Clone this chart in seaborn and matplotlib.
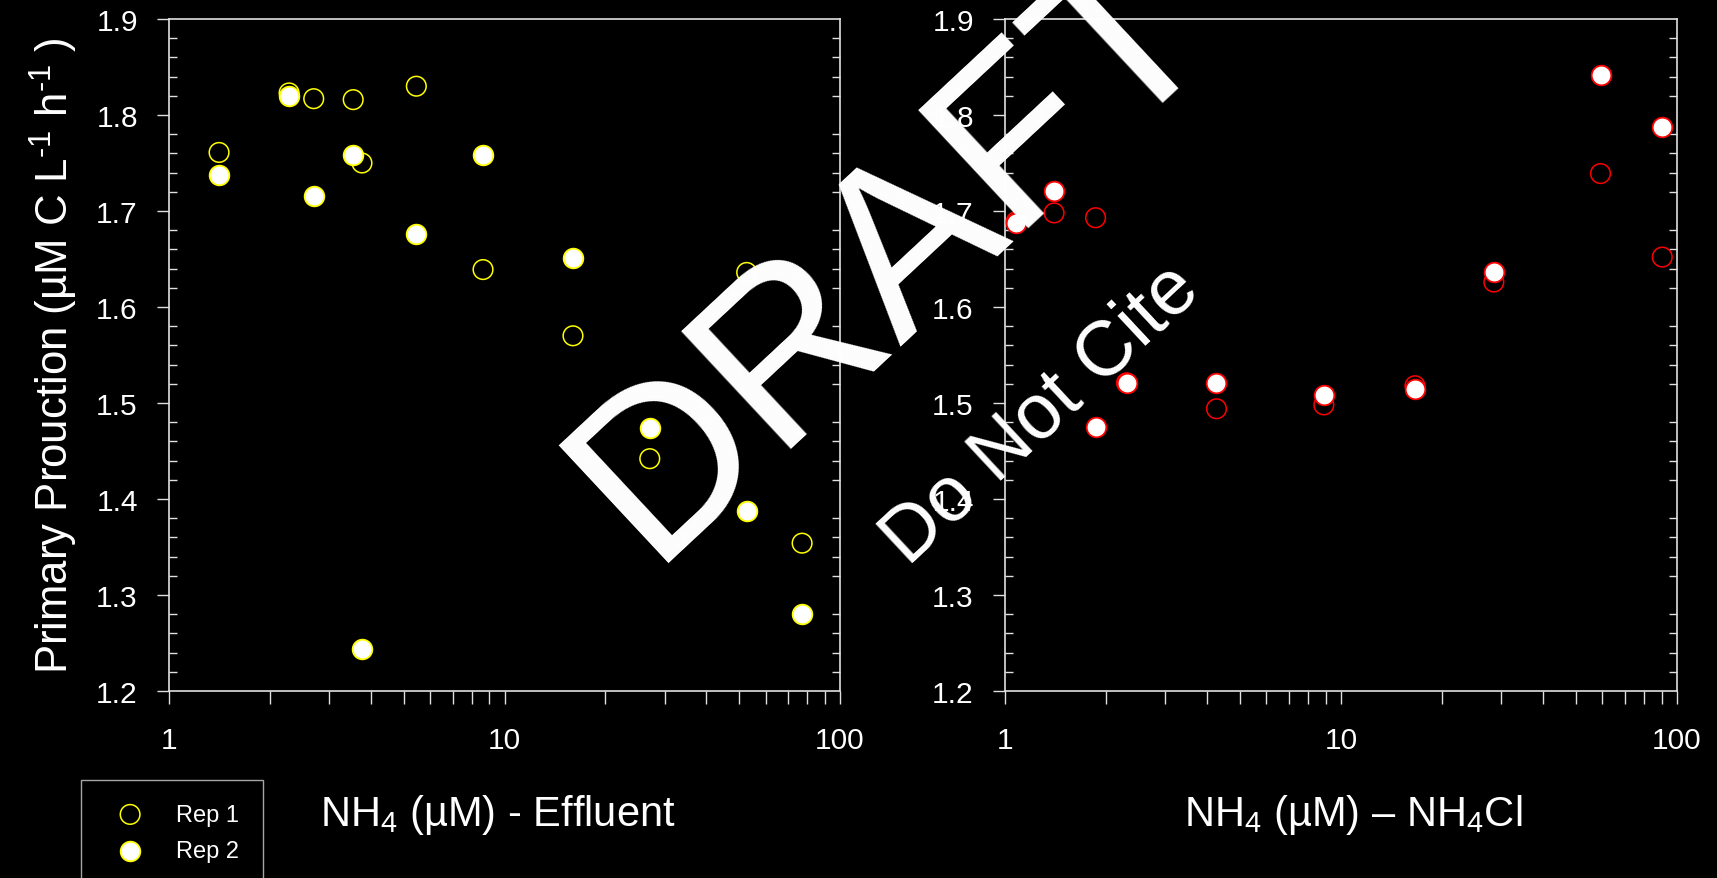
import matplotlib
matplotlib.use("Agg")
import matplotlib.pyplot as plt
from matplotlib.ticker import FixedLocator, LogLocator, MultipleLocator, NullFormatter
import seaborn as sns

# Primary production vs. NH4 added as wastewater effluent
effluent_nh4 = [1.41, 2.28, 2.70, 3.54, 3.76, 5.46, 8.63, 16.0, 27.1, 52.7, 77.1]
effluent_rep1 = [1.761, 1.823, 1.817, 1.816, 1.750, 1.830, 1.639, 1.570, 1.442, 1.636, 1.354]
effluent_rep2 = [1.737, 1.820, 1.716, 1.758, 1.244, 1.676, 1.758, 1.651, 1.474, 1.388, 1.280]

# Primary production vs. NH4 added as NH4Cl
nh4cl_nh4 = [1.08, 1.40, 1.86, 2.30, 4.26, 8.89, 16.6, 28.5, 59.2, 90.4]
nh4cl_rep1 = [1.689, 1.698, 1.693, 1.521, 1.494, 1.498, 1.518, 1.626, 1.739, 1.652]
nh4cl_rep2 = [1.688, 1.721, 1.475, 1.521, 1.521, 1.508, 1.515, 1.636, 1.842, 1.788]

rep_labels = ["Rep 1", "Rep 2"]
x_titles = ["NH$_4$ (µM) - Effluent", "NH$_4$ (µM) – NH$_4$Cl"]
y_title = r"Primary Prouction (µM C L$^{\text{-}1}$ h$^{\text{-}1}$ )"
y_ticks = [1.2, 1.3, 1.4, 1.5, 1.6, 1.7, 1.8, 1.9]
x_ticks = [1, 10, 100]
x_ticklabels = ["1", "10", "100"]

sns.set_style("ticks", rc={
    "figure.facecolor": "black",
    "axes.facecolor": "black",
    "axes.edgecolor": "#e0e0e0",
    "text.color": "white",
    "axes.labelcolor": "white",
    "xtick.color": "#e0e0e0",
    "ytick.color": "#e0e0e0",
})
plt.rcParams["font.family"] = ["Liberation Sans", "DejaVu Sans"]
plt.rcParams["mathtext.fontset"] = "custom"
plt.rcParams["mathtext.rm"] = "Liberation Sans"
plt.rcParams["mathtext.it"] = "Liberation Sans:italic"
plt.rcParams["mathtext.default"] = "regular"

W, H = 1717, 879
fig = plt.figure(figsize=(W / 100, H / 100), dpi=100, facecolor="black")


def px_rect(x0, y0, x1, y1):
    return [x0 / W, 1 - y1 / H, (x1 - x0) / W, (y1 - y0) / H]


ax1 = fig.add_axes(px_rect(169, 20, 840, 692))
ax2 = fig.add_axes(px_rect(1005, 20, 1677, 692))

panels = [
    (ax1, effluent_nh4, effluent_rep1, effluent_rep2, "#ffff00", x_titles[0], 0.490),
    (ax2, nh4cl_nh4, nh4cl_rep1, nh4cl_rep2, "#ff0000", x_titles[1], 0.518),
]

for ax, xs, r1, r2, col, xtitle, xlab_pos in panels:
    sns.scatterplot(x=xs, y=r1, ax=ax, s=200, facecolor="none", edgecolor=col,
                    linewidth=1.1, label=rep_labels[0], legend=False, zorder=3)
    sns.scatterplot(x=xs, y=r2, ax=ax, s=200, facecolor="white", edgecolor=col,
                    linewidth=1.3, label=rep_labels[1], legend=False, zorder=4)

    ax.set_xscale("log")
    ax.set_xlim(1, 100)
    ax.set_ylim(1.2, 1.9)

    ax.xaxis.set_major_locator(FixedLocator(x_ticks))
    ax.set_xticklabels(x_ticklabels)
    ax.xaxis.set_minor_locator(LogLocator(base=10, subs=range(2, 10)))
    ax.xaxis.set_minor_formatter(NullFormatter())

    ax.yaxis.set_major_locator(FixedLocator(y_ticks))
    ax.set_yticklabels([f"{v:.1f}" for v in y_ticks])
    ax.yaxis.set_minor_locator(MultipleLocator(0.02))

    ax.tick_params(axis="y", which="major", direction="out", length=9, width=1.0,
                   left=True, right=False, labelsize=21.5, labelcolor="white", pad=13.5)
    ax.tick_params(axis="y", which="minor", direction="in", length=6, width=1.0,
                   left=True, right=True)
    ax.tick_params(axis="x", which="both", direction="out", length=9.4, width=1.0,
                   bottom=True, top=False)
    ax.tick_params(axis="x", which="major", labelsize=21.5, labelcolor="white", pad=16)

    for sp in ax.spines.values():
        sp.set_visible(True)
        sp.set_linewidth(1.2)
        sp.set_color("#e0e0e0")

    ax.set_xlabel(xtitle, fontsize=30, color="white")
    ax.xaxis.set_label_coords(xlab_pos, -0.150)
    ax.set_ylabel("")

ax1.set_ylabel(y_title, fontsize=31.5, color="white")
ax1.yaxis.set_label_coords(-0.132, 0.5)

handles, labels = ax1.get_legend_handles_labels()
leg = fig.legend(handles, labels, loc="upper left",
                 bbox_to_anchor=(81 / W, 1 - 781 / H), bbox_transform=fig.transFigure,
                 fontsize=17, frameon=True, fancybox=False, borderpad=1.0,
                 handlelength=2.16, handletextpad=0.86, labelspacing=0.6, borderaxespad=0)
frame = leg.get_frame()
frame.set_facecolor("black")
frame.set_edgecolor("#d0d0d0")
frame.set_linewidth(1.0)
for t in leg.get_texts():
    t.set_color("white")

# Watermark
fig.text(650 / W, 1 - 563 / H, "DRAFT", fontsize=168, rotation=43, rotation_mode="anchor",
         ha="left", va="baseline", color="white", zorder=10)
fig.text(908 / W, 1 - 567 / H, "Do Not Cite", fontsize=56, rotation=43, rotation_mode="anchor",
         ha="left", va="baseline", color="white", zorder=10)

fig.savefig("out.png", dpi=100, facecolor="black")
